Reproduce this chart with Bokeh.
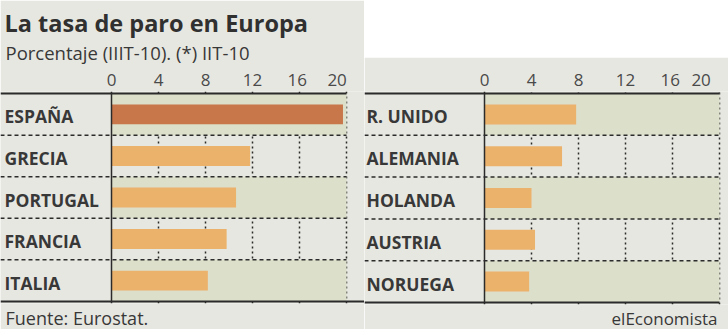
from bokeh.plotting import figure
from bokeh.models import FactorRange, Range1d, FixedTicker, Span, Title, Spacer
from bokeh.layouts import row, column
from bokeh.core.properties import value
from bokeh.embed import file_html
from bokeh.resources import INLINE

# ---- data (unemployment rate, %) ----
left_countries = ["ESPAÑA", "GRECIA", "PORTUGAL", "FRANCIA", "ITALIA"]
left_values = [19.7, 11.8, 10.6, 9.8, 8.2]
right_countries = ["R. UNIDO", "ALEMANIA", "HOLANDA", "AUSTRIA", "NORUEGA"]
right_values = [7.8, 6.6, 4.0, 4.3, 3.8]
ticks = [0, 4, 8, 12, 16, 20]
highlight = "ESPAÑA"

title_text = "La tasa de paro en Europa"
subtitle_text = "Porcentaje (IIIT-10). (*) IIT-10"
source_text = "Fuente: Eurostat."
brand_text = "elEconomista"

# ---- style ----
PAPER = "#e7e7e1"
SHADE = "#dcdfca"
BAR = "#ebb26c"
BAR_HI = "#c8774a"
INK = "#2b2b2b"
TEXT = "#383838"
TICK_TEXT = "#4a4a4a"
FONT = "Open Sans"
PXU = 11.75          # pixels per percentage point
W, H = 364, 329
TOP, BOTTOM = 91, 25
WHITE_TOP = 57
PAD = 0.05
NBSP = "\u00a0"


def panel(countries, values, zero_px, label_dx, full_bottom, height, top):
    x0 = -zero_px / PXU
    x1 = x0 + W / PXU
    yr = FactorRange(factors=list(reversed(countries)), range_padding=PAD,
                     range_padding_units="absolute")
    p = figure(width=W, height=height, x_range=Range1d(x0, x1), y_range=yr,
               output_backend="svg", toolbar_location=None, title=None,
               x_axis_location="above", y_axis_location=None,
               min_border_left=0, min_border_right=0,
               min_border_top=top, min_border_bottom=BOTTOM,
               background_fill_color=PAPER, border_fill_color=PAPER,
               outline_line_color=None)
    xmax = ticks[-1]
    # alternating row shading
    p.hbar(y=countries[0::2], left=0, right=xmax, height=1.0,
           fill_color=SHADE, line_color=None)
    # grid
    p.xgrid.ticker = FixedTicker(ticks=ticks[1:])
    p.xgrid.grid_line_color = INK
    p.xgrid.grid_line_width = 1.5
    p.xgrid.grid_line_dash = "2 3"
    p.ygrid.grid_line_color = None
    # bars
    colors = [BAR_HI if c == highlight else BAR for c in countries]
    p.hbar(y=countries, left=0, right=values, height=0.48,
           fill_color=colors, line_color=None)
    # row separators
    sep_y = [(c, -0.5) for c in countries[:-1]]
    p.segment(x0=[x0] * len(sep_y), x1=[xmax] * len(sep_y), y0=sep_y, y1=sep_y,
              line_color=INK, line_width=1.5, line_dash="4 3")
    # top and bottom rules
    p.segment(x0=[x0], x1=[xmax], y0=[(countries[0], 0.5)], y1=[(countries[0], 0.5)],
              line_color=INK, line_width=2)
    p.segment(x0=[x0], x1=[x1 if full_bottom else xmax],
              y0=[(countries[-1], -0.5)], y1=[(countries[-1], -0.5)],
              line_color=INK, line_width=2)
    p.add_layout(Span(location=0, dimension="height", line_color=INK, line_width=1.5))
    # category labels
    p.text(x=[x0] * len(countries), y=countries, text=countries,
           x_offset=label_dx, y_offset=2,
           text_font=value(FONT), text_font_style="bold", text_font_size="17.5px",
           text_color=TEXT, text_baseline="middle", text_align="left")
    # axis
    ax = p.xaxis[0]
    ax.ticker = FixedTicker(ticks=ticks)
    ax.major_label_overrides = {20: "20" + NBSP * 4, 16: "16" + NBSP}
    ax.axis_line_color = None
    ax.major_tick_line_color = None
    ax.minor_tick_line_color = None
    ax.major_tick_out = 0
    ax.major_tick_in = 0
    ax.minor_tick_out = 0
    ax.major_label_text_font = FONT
    ax.major_label_text_font_size = "17px"
    ax.major_label_text_color = TICK_TEXT
    ax.major_label_standoff = 1
    return p


left = panel(left_countries, left_values, 111, 4, True, H, TOP)
right = panel(right_countries, right_values, 120, 2, False, H - WHITE_TOP, TOP - WHITE_TOP)

left.add_layout(Title(text=subtitle_text, align="left", offset=5,
                      text_font=FONT, text_font_style="normal",
                      text_font_size="18.5px", text_color=TEXT, standoff=0), "above")
left.add_layout(Title(text=title_text, align="left", offset=4,
                      text_font=FONT, text_font_style="bold",
                      text_font_size="23.5px", text_color="#303030", standoff=-3), "above")
left.add_layout(Title(text=source_text, align="left", offset=5,
                      text_font=FONT, text_font_style="normal",
                      text_font_size="18px", text_color=TEXT, standoff=0), "below")
right.add_layout(Title(text=brand_text, align="right", offset=11,
                       text_font=FONT, text_font_style="normal",
                       text_font_size="17px", text_color=TEXT, standoff=0), "below")

# unprinted (white) area above the right-hand panel
right_col = column(Spacer(width=W, height=WHITE_TOP), right, spacing=0)
layout = row(left, right_col, spacing=0)
open("out.html", "w").write(file_html(layout, INLINE))
